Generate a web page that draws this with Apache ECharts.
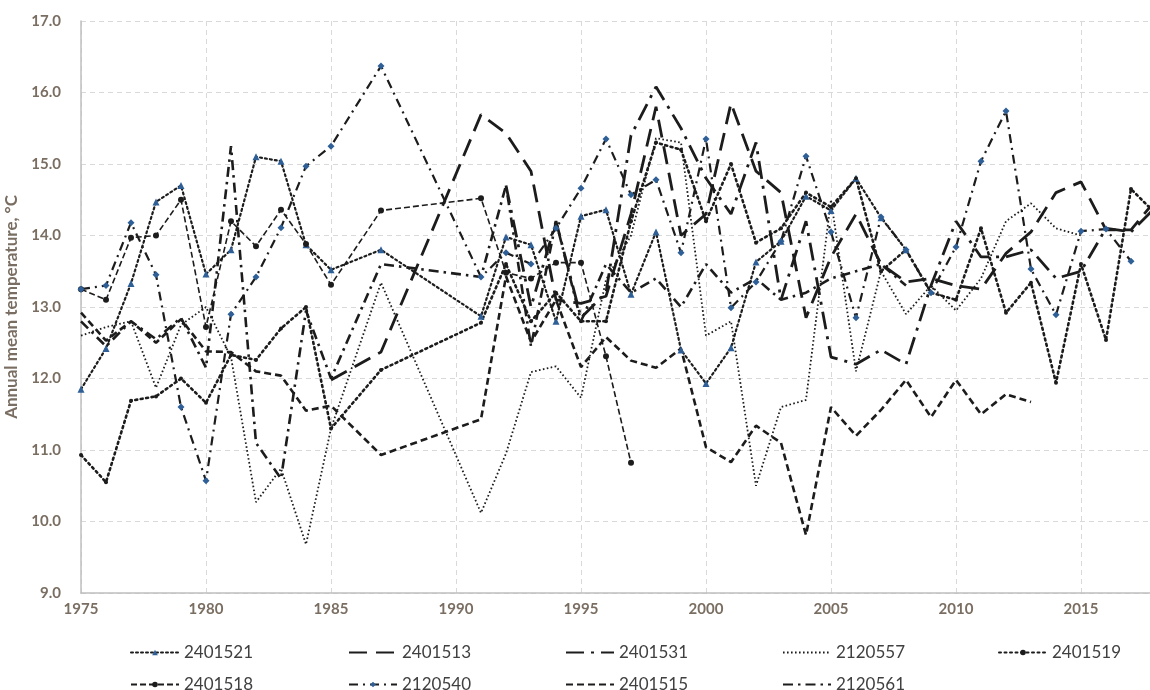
<!DOCTYPE html>
<html><head><meta charset="utf-8">
<script src="https://cdn.jsdelivr.net/npm/echarts@6/dist/echarts.min.js"></script>
<style>html,body{margin:0;padding:0;overflow:hidden;background:#fff}#c{width:1160px;height:690px}</style>
</head><body><div id="c"></div>
<script>
const years = [1975,1976,1977,1978,1979,1980,1981,1982,1983,1984,1985,1987,1991,1992,1993,1994,1995,1996,1997,1998,1999,2000,2001,2002,2003,2004,2005,2006,2007,2008,2009,2010,2011,2012,2013,2014,2015,2016,2017,2018];
const yTicks = [9,10,11,12,13,14,15,16,17];
const s2401521 = [11.85,12.42,13.33,14.47,14.70,13.46,13.80,15.10,15.04,13.87,13.52,13.80,12.87,13.98,13.87,12.80,14.27,14.36,13.18,14.05,12.40,11.93,12.43,13.63,13.92,14.55,14.35,14.80,14.25,13.80,null,null,null,null,null,null,null,null,null,null];
const s2401513 = [null,null,null,null,null,null,null,null,null,null,11.98,12.37,15.69,15.43,14.90,13.10,13.05,13.15,14.30,15.80,14.00,14.30,15.85,14.90,14.60,12.85,13.70,14.30,13.60,13.35,13.40,13.30,13.25,13.75,14.05,14.60,14.75,14.08,14.08,14.50];
const s2401531 = [null,null,null,null,null,null,null,null,null,null,null,null,null,14.70,13.00,14.20,12.85,13.20,15.40,16.08,15.50,14.80,14.30,15.30,13.10,14.20,12.30,12.20,12.40,12.20,13.30,14.20,13.70,13.70,13.80,13.40,13.50,14.10,14.05,14.40];
const s2120557 = [12.60,12.72,12.80,11.87,12.75,13.00,12.30,10.27,10.74,9.68,11.30,13.34,10.12,10.95,12.09,12.17,11.73,13.38,14.00,15.36,15.30,12.60,12.80,10.50,11.60,11.70,14.50,12.10,13.50,12.90,13.30,12.95,13.40,14.20,14.45,14.10,14.00,null,null,null];
const s2401519 = [10.93,10.55,11.69,11.75,12.00,11.66,12.33,12.26,12.70,13.00,11.30,12.12,12.78,13.60,12.80,13.20,12.80,12.80,14.20,15.30,15.20,14.20,15.00,13.90,14.10,14.60,14.40,14.80,13.50,13.80,13.20,13.10,14.10,12.92,13.34,11.94,13.60,12.54,14.65,14.30];
const s2401518 = [13.25,13.10,13.97,14.00,14.50,12.72,14.20,13.85,14.36,13.88,13.31,14.35,14.52,13.48,13.40,13.62,13.62,12.31,10.82,null,null,null,null,null,null,null,null,null,null,null,null,null,null,null,null,null,null,null,null,null];
const s2120540 = [13.25,13.30,14.18,13.45,11.60,10.57,12.90,13.42,14.11,14.97,15.25,16.37,13.42,13.76,13.60,14.10,14.66,15.35,14.57,14.78,13.76,15.35,12.99,13.35,13.92,15.11,14.05,12.85,14.26,13.80,13.20,13.84,15.04,15.74,13.53,12.89,14.06,14.09,13.64,null];
const s2401515 = [12.92,12.53,12.80,12.50,12.83,12.38,12.37,12.10,12.04,11.55,11.62,10.93,11.43,13.43,12.51,13.10,12.16,12.58,12.25,12.15,12.42,11.04,10.83,11.34,11.10,9.81,11.60,11.20,11.56,11.98,11.46,11.98,11.50,11.78,11.67,null,null,null,null,null];
const s2120561 = [12.80,12.45,12.80,12.55,12.85,12.15,15.25,11.10,10.60,12.95,12.00,13.60,13.42,14.70,12.45,14.20,12.80,13.60,13.20,13.40,13.00,13.60,13.20,13.40,13.10,13.20,13.40,13.50,13.60,13.30,null,null,null,null,null,null,null,null,null,null];

const ink = '#1c1c1c';
const blue = '#2f5f97';
function pts(arr){ return years.map((y,i)=>[y, arr[i]]); }
const defs = [
  {name:'2401521', data:s2401521, type:[2,3], width:2.2, cap:'round', symbol:'triangle', size:7, color:blue},
  {name:'2401513', data:s2401513, type:[18,9], width:2.8, cap:'butt', symbol:'none'},
  {name:'2401531', data:s2401531, type:[18,7,3,7], width:2.8, cap:'butt', symbol:'none'},
  {name:'2120557', data:s2120557, type:[1.6,2.4], width:1.8, cap:'butt', symbol:'none'},
  {name:'2401519', data:s2401519, type:[2,3.5], width:2.6, cap:'round', symbol:'circle', size:4, color:ink},
  {name:'2401518', data:s2401518, type:[6,3], width:1.6, cap:'butt', symbol:'circle', size:6, color:ink},
  {name:'2120540', data:s2120540, type:[9,5,2,5], width:2.2, cap:'butt', symbol:'diamond', size:7, color:blue},
  {name:'2401515', data:s2401515, type:[7,4], width:2.6, cap:'butt', symbol:'none'},
  {name:'2120561', data:s2120561, type:[10,5,2.5,5], width:2.6, cap:'butt', symbol:'none'}
];
const series = defs.map(d=>({
  name:d.name, type:'line', data:pts(d.data), connectNulls:false,
  symbol:d.symbol, symbolSize:d.size||0, showSymbol:d.symbol!=='none',
  itemStyle:{color:d.color||ink, borderWidth:0},
  lineStyle:{color:ink, width:d.width, type:d.type, cap:d.cap},
  color:ink, animation:false, z:2
}));
const legX = [130,348,565,782,998];
const legends = defs.map((d,i)=>{
  const lg = {
    data:[d.name],
    left: legX[i<5?i:i-5], top: i<5?644:676, padding:0,
    itemWidth:48, itemHeight:7, itemGap:4,
    textStyle:{fontFamily:'Lato', fontSize:17, color:'#404040'},
    selectedMode:false
  };
  if (d.symbol==='none') lg.itemStyle = {opacity:0};
  return lg;
});
const chart = echarts.init(document.getElementById('c'), null, {renderer:'canvas'});
chart.setOption({
  animation:false,
  backgroundColor:'#ffffff',
  grid:{left:81, right:4, top:21, bottom:97, containLabel:false, outerBoundsMode:'none'},
  legend: legends,
  xAxis:{type:'value', min:1975, max:2018, interval:5,
    axisLine:{show:true, lineStyle:{color:'#bfbfbf', width:1.5}},
    axisTick:{show:false},
    splitLine:{show:true, lineStyle:{color:'#d9d9d9', type:[5,4], width:1}},
    axisLabel:{margin:9, fontFamily:'Lato', fontWeight:'bold', fontSize:15, color:'#7a6e62',
      formatter:v=> ((v-1975)%5===0 ? String(v) : '')}},
  yAxis:{type:'value', min:yTicks[0], max:yTicks[yTicks.length-1], interval:1,
    name:'Annual mean temperature, °C', nameLocation:'middle', nameGap:46,
    nameTextStyle:{fontFamily:'Lato', fontWeight:'bold', fontSize:17, color:'#7a6e62'},
    axisLine:{show:true, lineStyle:{color:'#bfbfbf', width:1.5}},
    axisTick:{show:false},
    splitLine:{show:true, lineStyle:{color:'#d9d9d9', type:[5,4], width:1}},
    axisLabel:{margin:20, fontFamily:'Lato', fontWeight:'bold', fontSize:15, color:'#7a6e62',
      formatter:v=>v.toFixed(1)}},
  series: series
});
</script></body></html>
